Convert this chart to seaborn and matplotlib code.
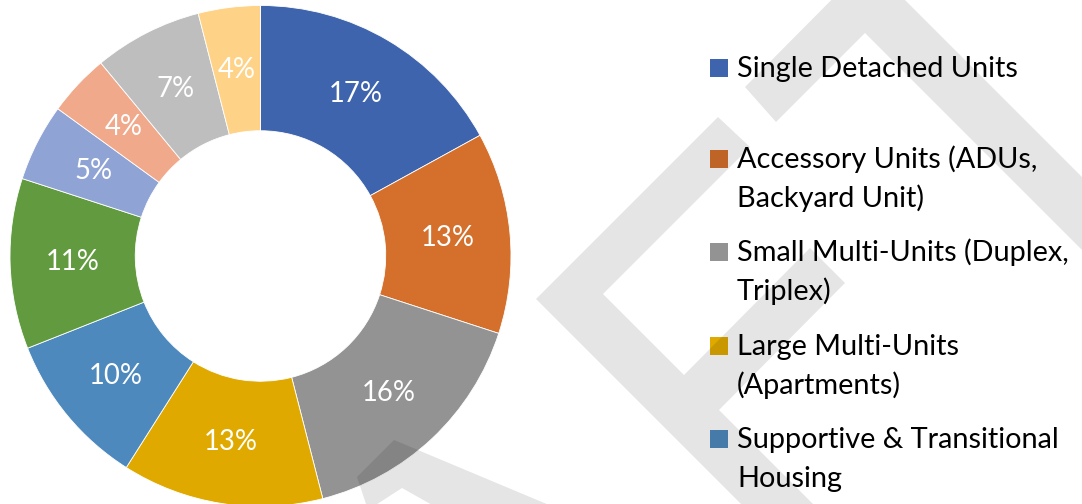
import matplotlib
matplotlib.use("Agg")
import matplotlib.pyplot as plt
import seaborn as sns
from matplotlib.patches import Polygon, Rectangle

# share of each housing type (%), clockwise from 12 o'clock
shares = [17, 13, 16, 13, 10, 11, 5, 4, 7, 4]
slice_colors = ["#3E64AD", "#D4702C", "#939393", "#E0A900", "#4E89BD",
                "#629B3F", "#8FA4D5", "#F0A98B", "#BEBEBE", "#FFD387"]
# only the first five legend entries are visible in the cropped chart
legend_labels = [
    "Single Detached Units",
    "Accessory Units (ADUs,\nBackyard Unit)",
    "Small Multi-Units (Duplex,\nTriplex)",
    "Large Multi-Units\n(Apartments)",
    "Supportive & Transitional\nHousing",
]

# light watermark shapes behind the legend (pixel coords, y down)
watermark = [
    [(745, 87), (868, -37), (1200, 295), (1200, 368), (865, 33), (776, 122)],
    [(718, 117), (750, 147), (603, 294), (819, 510), (747, 510), (536, 299)],
    [(810, 248), (845, 283), (719, 410), (684, 375)],
    [(357, 477), (394, 440), (561, 510), (441, 510), (402, 488), (368, 510)],
]

sns.set_theme(style="white")
plt.rcParams["font.family"] = ["Lato", "DejaVu Sans"]

W, H = 1082, 504
fig = plt.figure(figsize=(W / 100, H / 100), dpi=100)
fig.patch.set_facecolor("white")


def px(x, y):
    return x / W, 1 - y / H


# donut centre and outer radius in pixels
cx, cy, r = 260.5, 256, 250.5
ax = fig.add_axes([(cx - r) / W, (H - cy - r) / H, 2 * r / W, 2 * r / H])
wedges, texts, autotexts = ax.pie(
    shares,
    colors=sns.color_palette(slice_colors),
    startangle=90,
    counterclock=False,
    autopct="%.0f%%",
    pctdistance=0.75,
    wedgeprops=dict(width=0.5, edgecolor="white", linewidth=0.6),
    textprops=dict(color="white", fontsize=19.8),
)
ax.set_xlim(-1, 1)
ax.set_ylim(-1, 1)
ax.axis("off")

# legend drawn by hand so the marker sits on the first text line
for i, (lab, col) in enumerate(zip(legend_labels, slice_colors)):
    base = 77 if i == 0 else 168 + 93.3 * (i - 1)
    fig.patches.append(Rectangle(px(710, base), 18 / W, 18 / H, transform=fig.transFigure,
                                 facecolor=col, edgecolor="none", figure=fig, zorder=2))
    for j, line in enumerate(lab.split("\n")):
        fig.text(*px(737, base + 39 * j), line, fontsize=20.8, va="baseline",
                 ha="left", color="black", zorder=3)

for pts in watermark:
    fig.patches.append(Polygon([px(x, y) for x, y in pts], closed=True, transform=fig.transFigure,
                               facecolor="black", alpha=0.1, edgecolor="none", figure=fig, zorder=5))

fig.savefig("out.png", dpi=100)
